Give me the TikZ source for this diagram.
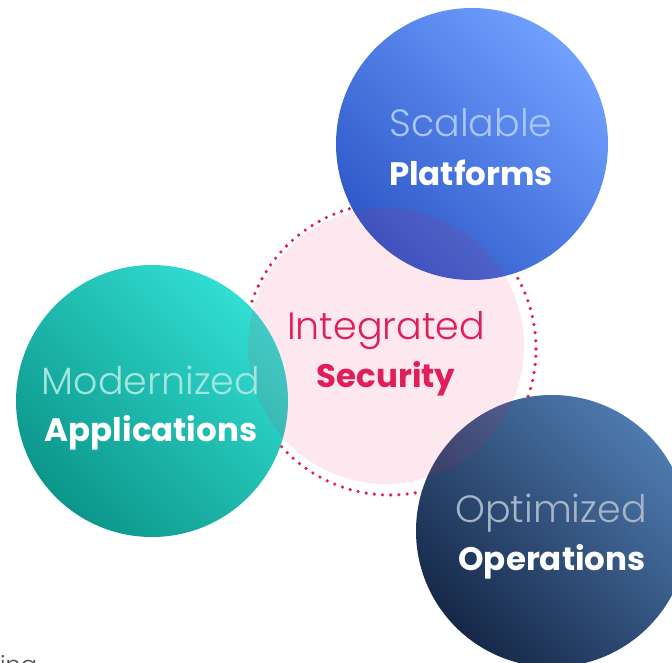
\documentclass[tikz,border=0pt]{standalone}
\usepackage{fontspec}
\setmainfont{Poppins}
\newfontfamily\thinfont{Poppins Light}
\usetikzlibrary{positioning,calc}
\definecolor{crim}{RGB}{224,30,90}
\definecolor{blueA}{RGB}{46,88,200}
\definecolor{blueB}{RGB}{44,108,245}
\definecolor{blueC}{RGB}{112,160,255}
\definecolor{tealA}{RGB}{12,150,138}
\definecolor{tealB}{RGB}{30,198,188}
\definecolor{tealC}{RGB}{50,222,210}
\definecolor{navyA}{RGB}{22,40,72}
\definecolor{navyB}{RGB}{38,70,118}
\definecolor{navyC}{RGB}{78,122,175}
\tikzset{
  ball/.style={circle,minimum size=272pt,inner sep=0pt},
  upper/.style={anchor=base,font=\thinfont\fontsize{38}{40}\selectfont},
  lower/.style={anchor=base,font=\bfseries\fontsize{32.5}{40}\selectfont,text=white}
}
\begin{document}
\begin{tikzpicture}[x=1pt,y=-1pt]
  \useasboundingbox (0,0) rectangle (672,662);
  % 点線の円
  \node[circle,minimum size=292pt,draw=crim,line width=3.6pt,line cap=round,
        dash pattern=on 0pt off 8.2pt] (ring) at (390,349) {};
  % 円
  \node[ball,left color=blueA,middle color=blueB,right color=blueC,shading angle=135] (plat) at (472,144) {};
  \node[ball,left color=tealA,middle color=tealB,right color=tealC,shading angle=135] (apps) at (152,401) {};
  \node[ball,left color=navyA,middle color=navyB,right color=navyC,shading angle=135] (ops) at (552,531) {};
  \node[circle,minimum size=276pt,inner sep=0pt,fill=crim,fill opacity=0.1] (sec) at (386,346) {};
  % 文字
  \node[upper,text={rgb,255:red,170;green,198;blue,248}] (platA) at (471,136) {Scalable};
  \node[lower] (platB) at (471,185) {Platforms};
  \node[upper,text=crim] (secA) at (386,339) {Integrated};
  \node[lower,text=crim] (secB) at (386,387) {Security};
  \node[upper,text={rgb,255:red,163;green,230;blue,223}] (appsA) at (151,394) {Modernized};
  \node[lower] (appsB) at (151,441) {Applications};
  \node[upper,text={rgb,255:red,166;green,180;blue,200}] (opsA) at (551,522) {Optimized};
  \node[lower] (opsB) at (552,570) {Operations};
  \node[anchor=north west,inner sep=0pt,text=black!70,font=\thinfont\fontsize{24}{26}\selectfont] (frag) at (0,655) {ing};
\end{tikzpicture}
\end{document}
